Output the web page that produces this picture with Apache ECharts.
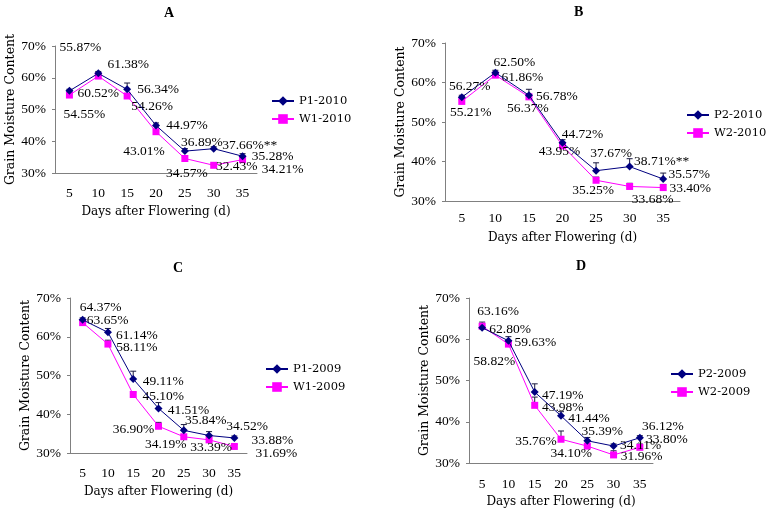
<!DOCTYPE html>
<html><head><meta charset="utf-8">
<script src="https://cdn.jsdelivr.net/npm/echarts@6/dist/echarts.min.js"></script>
<style>html,body{margin:0;padding:0;background:#fff}#c{width:774px;height:516px}</style>
</head><body><div id="c"></div>
<script>
// ---- data ----
const days = ['5','10','15','20','25','30','35'];
const yMin = 30, yMax = 70, yStep = 10;
const xName = 'Days after Flowering (d)';
const yName = 'Grain Moisture Content';
const panelTitles = ['A','B','C','D'];

const namesA = ['P1-2010','W1-2010'];
const aP = [55.87, 61.38, 56.34, 44.97, 36.89, 37.66, 35.28];
const aW = [54.55, 60.52, 54.26, 43.01, 34.57, 32.43, 34.21];
const aPErr = [0.5, 0.6, 2.0, 0.8, 0.8, 0.6, 0.8];
const aWErr = [0.4, 0.5, 0.5, 0.5, 0.5, 0.4, 0.8];
const aPMark = ['','','','','','**',''];

const namesB = ['P2-2010','W2-2010'];
const bP = [56.27, 62.50, 56.78, 44.72, 37.67, 38.71, 35.57];
const bW = [55.21, 61.86, 56.37, 43.95, 35.25, 33.68, 33.40];
const bPErr = [0.5, 0.6, 1.5, 0.8, 2.0, 2.0, 1.5];
const bWErr = [0.4, 0.4, 0.5, 0.5, 0.8, 0.8, 0.8];
const bPMark = ['','','','','','**',''];

const namesC = ['P1-2009','W1-2009'];
const cP = [64.37, 61.14, 49.11, 41.51, 35.84, 34.52, 33.88];
const cW = [63.65, 58.11, 45.10, 36.90, 34.19, 33.39, 31.69];
const cPErr = [0.5, 1.0, 2.0, 1.5, 1.5, 1.0, 0.5];
const cWErr = [0.4, 1.0, 0.6, 1.0, 0.5, 0.5, 0.5];

const namesD = ['P2-2009','W2-2009'];
const dP = [62.80, 59.63, 47.19, 41.44, 35.39, 34.11, 36.12];
const dW = [63.16, 58.82, 43.98, 35.76, 34.10, 31.96, 33.80];
const dPErr = [0.5, 1.0, 2.0, 1.0, 0.8, 0.5, 0.5];
const dWErr = [1.0, 0.5, 2.0, 2.0, 0.5, 1.0, 0.8];

// ---- label offsets (style only) ----
const offAP = [[11,-43],[30,-9],[31,0],[31,0],[17,-9],[36,-3],[30,0]];
const offAW = [[15,19],[0,17],[25,10],[-12,20],[2,15],[23,1],[40,10]];
const offBP = [[8,-11],[19,-10],[28,1],[20,-8],[15,-17],[32,-5],[26,-5]];
const offBW = [[9,11],[27,2],[-1,12],[-3,6],[-3,10],[23,13],[27,1]];
const offCP = [[18,-12],[29,3],[30,3],[30,2],[22,-10],[38,-9],[38,2]];
const offCW = [[25,-2],[29,3],[30,2],[-25,3],[-18,8],[2,8],[42,7]];
const offDP = [[28,2],[27,2],[28,3],[28,3],[15,-9],[27,-1],[23,-11]];
const offDW = [[16,-15],[-14,17],[28,2],[-25,2],[-16,7],[28,2],[27,-8]];

const FONT = 'Liberation Serif';
const NFONT = 'DejaVu Serif';
const FS = 13.5;
const NAVY = '#000080', MAG = '#ff00ff';

const panels = [
  {names:namesA, P:aP, W:aW, PE:aPErr, WE:aWErr, PM:aPMark, oP:offAP, oW:offAW,
   grid:{left:55, top:46, width:202, height:127}, lm:13, ng:33, leg:{left:271, top:95}, title:[169,13]},
  {names:namesB, P:bP, W:bW, PE:bPErr, WE:bWErr, PM:bPMark, oP:offBP, oW:offBW,
   grid:{left:445, top:43, width:235, height:158}, lm:10, ng:31, leg:{left:686, top:109}, title:[579,12]},
  {names:namesC, P:cP, W:cW, PE:cPErr, WE:cWErr, PM:null, oP:offCP, oW:offCW,
   grid:{left:70, top:298, width:177, height:155}, lm:13, ng:33, leg:{left:265, top:363}, title:[178,268]},
  {names:namesD, P:dP, W:dW, PE:dPErr, WE:dWErr, PM:null, oP:offDP, oW:offDW,
   grid:{left:469, top:298, width:184, height:165}, lm:14, ng:33, leg:{left:670, top:368}, title:[581,266]}
];

function errRender(params, api){
  const x = api.value(0), v = api.value(1), e = api.value(2);
  const p0 = api.coord([x, v]); const p1 = api.coord([x, v + e]);
  return {type:'group', children:[
    {type:'line', shape:{x1:p0[0],y1:p0[1],x2:p1[0],y2:p1[1]}, style:{stroke:'#1a1a40', lineWidth:1}},
    {type:'line', shape:{x1:p1[0]-3,y1:p1[1],x2:p1[0]+3,y2:p1[1]}, style:{stroke:'#1a1a40', lineWidth:1}}
  ]};
}

const grid=[], xAxis=[], yAxis=[], series=[], legend=[], graphic=[];
panels.forEach((p, k) => {
  grid.push(Object.assign({containLabel:false}, p.grid));
  xAxis.push({type:'category', gridIndex:k, data:days, boundaryGap:true,
    axisLine:{lineStyle:{color:'#808080'}}, axisTick:{inside:true, length:5, lineStyle:{color:'#808080'}},
    axisLabel:{color:'#000', fontFamily:FONT, fontSize:FS, margin:p.lm},
    name:xName, nameLocation:'middle', nameGap:p.ng, nameTextStyle:{color:'#000', fontFamily:NFONT, fontSize:12}});
  yAxis.push({type:'value', gridIndex:k, min:yMin, max:yMax, interval:yStep,
    axisLine:{show:true, lineStyle:{color:'#808080'}}, axisTick:{show:true, length:3, lineStyle:{color:'#808080'}},
    splitLine:{show:false},
    axisLabel:{color:'#000', fontFamily:FONT, fontSize:FS, margin:9, formatter:'{value}%'},
    name:yName, nameLocation:'middle', nameGap:36, nameRotate:90,
    nameTextStyle:{color:'#000', fontFamily:NFONT, fontSize:12.5}});
  const mkData = (vals, offs) => vals.map((v,i)=>({value:v, label:{offset:offs[i]}}));
  const lbl = (marks) => ({show:true, position:'inside', color:'#000', fontFamily:FONT, fontSize:FS,
    formatter: (q) => q.value.toFixed(2) + '%' + (marks ? marks[q.dataIndex] : '')});
  series.push({type:'custom', xAxisIndex:k, yAxisIndex:k, renderItem:errRender, z:1, silent:true,
    data:p.P.map((v,i)=>[i, v, p.PE[i]])});
  series.push({type:'custom', xAxisIndex:k, yAxisIndex:k, renderItem:errRender, z:1, silent:true,
    data:p.W.map((v,i)=>[i, v, p.WE[i]])});
  series.push({type:'line', name:p.names[1], xAxisIndex:k, yAxisIndex:k, z:3,
    symbol:'rect', symbolSize:7, showAllSymbol:true,
    lineStyle:{color:MAG, width:1}, itemStyle:{color:MAG},
    label:lbl(null), data:mkData(p.W, p.oW), animation:false});
  series.push({type:'line', name:p.names[0], xAxisIndex:k, yAxisIndex:k, z:4,
    symbol:'diamond', symbolSize:8, showAllSymbol:true,
    lineStyle:{color:NAVY, width:1}, itemStyle:{color:NAVY},
    label:lbl(p.PM), data:mkData(p.P, p.oP), animation:false});
  legend.push({data:[p.names[0], p.names[1]], orient:'vertical', left:p.leg.left, top:p.leg.top,
    padding:0, itemWidth:22, itemHeight:12, itemGap:6,
    textStyle:{color:'#000', fontFamily:NFONT, fontSize:11.5}});
  graphic.push({type:'text', left:p.title[0]-5, top:p.title[1]-7,
    style:{text:panelTitles[k], font:'bold 14px "Liberation Serif"', fill:'#000'}});
});

const chart = echarts.init(document.getElementById('c'), null, {renderer:'canvas'});
chart.setOption({animation:false, backgroundColor:'#fff', grid, xAxis, yAxis, series, legend, graphic});
</script>
</body></html>
